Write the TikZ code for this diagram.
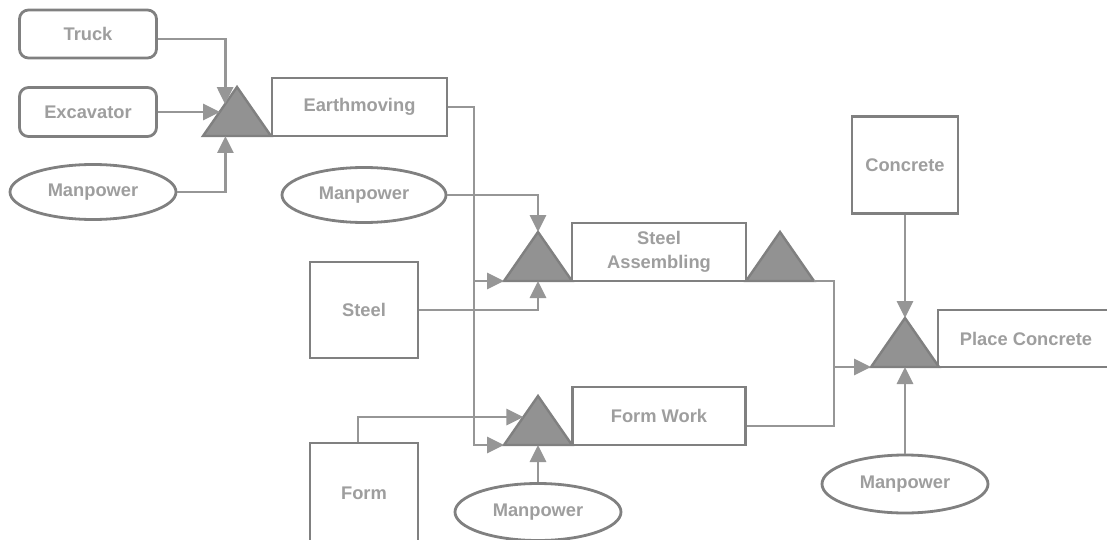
\documentclass[tikz,border=0pt]{standalone}
\usepackage{fontspec}
\setmainfont{Liberation Sans}
\usepackage{tikz}
\usepackage{xcolor}
\usetikzlibrary{arrows.meta,shapes.geometric,calc}
\definecolor{boxgray}{RGB}{128,128,128}
\definecolor{txtgray}{RGB}{158,158,158}
\definecolor{flowgray}{RGB}{150,150,150}
\definecolor{trigray}{RGB}{146,146,146}
\tikzset{
  lbl/.style={text=txtgray, font=\bfseries\fontsize{18.3}{21}\selectfont, inner sep=0pt},
  pbox/.style={lbl, draw=boxgray, line width=2.8pt, fill=white, rectangle},
  rbox/.style={pbox, rounded corners=9pt},
  oval/.style={lbl, draw=boxgray, line width=2.8pt, fill=white, ellipse},
  line/.style={draw=flowgray, line width=2.8pt},
  flow/.style={line, -{Triangle[length=17pt,width=16pt]}},
  tri/.style={fill=trigray, draw=boxgray, line width=2.4pt, line join=miter}
}
% name, x of apex, y of base
\newcommand{\proctri}[3]{%
  \coordinate (#1-t) at (#2,#3-49);
  \coordinate (#1-l) at (#2-34,#3);
  \coordinate (#1-r) at (#2+34,#3);
  \filldraw[tri] (#1-t) -- (#1-l) -- (#1-r) -- cycle;}

\begin{document}
\begin{tikzpicture}[x=1pt,y=-1pt]
  \clip (0,0) rectangle (1107,540);
  \fill[white] (0,0) rectangle (1107,540);

  \node[rbox, minimum width=137, minimum height=48] (truck) at (88,34) {Truck};
  \node[rbox, minimum width=137, minimum height=49] (exc) at (88,112) {Excavator};
  \node[oval, minimum width=166, minimum height=55] (manA) at (93,192) {Manpower};
  \node[pbox, minimum width=175, minimum height=58] (earth) at (359.5,107) {Earthmoving};
  \node[oval, minimum width=164, minimum height=55] (manB) at (364,195) {Manpower};
  \node[pbox, minimum width=108, minimum height=96] (steel) at (364,310) {Steel};
  \node[pbox, align=center, minimum width=174, minimum height=58] (sa) at (659,252) {Steel\\[3pt]Assembling};
  \node[pbox, minimum width=106, minimum height=97] (conc) at (905,165) {Concrete};
  \node[pbox, minimum width=176, minimum height=57] (pc) at (1026,338.5) {Place Concrete};
  \node[pbox, minimum width=173, minimum height=58] (fw) at (659,416) {Form Work};
  \node[pbox, minimum width=108, minimum height=100] (form) at (364,493) {Form};
  \node[oval, minimum width=166, minimum height=57] (manC) at (538,512) {Manpower};
  \node[oval, minimum width=166, minimum height=58] (manD) at (905,484) {Manpower};

  \proctri{tA}{237}{136}
  \proctri{tB}{538}{281}
  \proctri{tC}{780}{281}
  \proctri{tD}{905}{367}
  \proctri{tE}{538}{445}

  \coordinate (jL) at ([xshift=-30pt]tE-l);
  \coordinate (jR) at ([xshift=20pt]tC-r);

  \draw[flow] ([yshift=-5pt]truck.east) -| ($(tA-l)!0.65!(tA-t)$);
  \draw[flow] (exc.east) -- (exc.east -| {$(tA-l)!0.5!(tA-t)$});
  \draw[flow] (manA.east) -| ($(tA-l)!0.33!(tA-r)$);
  \draw[flow] (earth.east) -| (jL) -- (tE-l);
  \draw[flow] (tB-l -| jL) -- (tB-l);
  \draw[flow] (manB.east) -| (tB-t);
  \draw[flow] (steel.east) -| ($(tB-l)!0.5!(tB-r)$);
  \draw[flow] ([xshift=-6pt]form.north) |- ($(tE-l)!0.57!(tE-t)$);
  \draw[flow] (manC.north) -- ($(tE-l)!0.5!(tE-r)$);
  \draw[line] ([yshift=-10pt]fw.east) -| (jR) -- (tC-r);
  \draw[flow] (tD-l -| jR) -- (tD-l);
  \draw[flow] (conc.south) -- (tD-t);
  \draw[flow] (manD.north) -- ($(tD-l)!0.5!(tD-r)$);
\end{tikzpicture}
\end{document}
